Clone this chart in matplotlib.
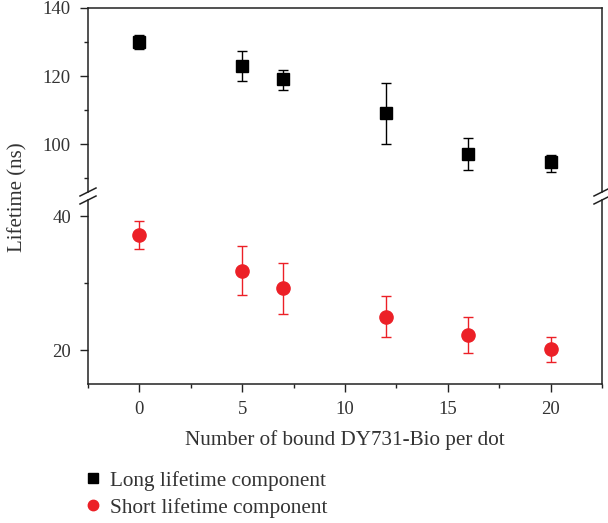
import matplotlib
matplotlib.use("Agg")
import matplotlib.pyplot as plt
from matplotlib.lines import Line2D

plt.rcParams["font.family"] = ["Liberation Serif", "DejaVu Serif"]

TEXT_COLOR = "#333333"
RED = "#ec2027"

dots = [0, 5, 7, 12, 16, 20]
long_life = [130.0, 122.9, 119.0, 109.0, 97.1, 94.8]
long_lo = [128.0, 118.4, 115.9, 100.1, 92.4, 91.8]
long_hi = [132.0, 127.4, 121.9, 117.9, 101.8, 96.9]
short_life = [37.2, 31.8, 29.3, 25.0, 22.2, 20.1]
short_lo = [35.1, 28.2, 25.4, 21.9, 19.5, 18.2]
short_hi = [39.3, 35.5, 33.0, 28.1, 24.9, 21.9]

W, H = 608, 523
fig = plt.figure(figsize=(W / 100, H / 100), dpi=100)

left, right = 88 / W, 602 / W
ax_top = fig.add_axes([left, 1 - 192 / H, right - left, (192 - 8) / H])
ax_bot = fig.add_axes([left, 1 - 384 / H, right - left, (384 - 200) / H], sharex=ax_top)

long_err = [[v - lo for v, lo in zip(long_life, long_lo)], [hi - v for v, hi in zip(long_life, long_hi)]]
short_err = [[v - lo for v, lo in zip(short_life, short_lo)], [hi - v for v, hi in zip(short_life, short_hi)]]

ax_top.errorbar(dots, long_life, yerr=long_err, fmt="s", color="black", markersize=8.5,
                capsize=3.3, elinewidth=1.0, capthick=1.0, zorder=3)
ax_bot.errorbar(dots, short_life, yerr=short_err, fmt="o", color=RED, markersize=9.5,
                capsize=3.3, elinewidth=1.0, capthick=1.0, zorder=3)

ax_top.set_ylim(85.9, 140)
ax_bot.set_ylim(14.93, 42.4)
ax_bot.set_xlim(-2.5, 22.5)

ax_top.set_yticks([100, 120, 140])
ax_top.set_yticks([90, 110, 130], minor=True)
ax_bot.set_yticks([20, 40])
ax_bot.set_yticks([30], minor=True)
ax_bot.set_xticks([0, 5, 10, 15, 20])
ax_bot.set_xticks([-2.5, 2.5, 7.5, 12.5, 17.5, 22.5], minor=True)

for ax in (ax_top, ax_bot):
    for side in ("left", "right", "top", "bottom"):
        ax.spines[side].set_linewidth(1.1)
        ax.spines[side].set_color("#222222")
    ax.tick_params(axis="both", which="major", direction="out", length=5.8, width=1.0,
                   colors="#222222", labelcolor=TEXT_COLOR, labelsize=13.5, pad=6.5)
    ax.tick_params(axis="both", which="minor", direction="out", length=3.0, width=1.0,
                   colors="#222222")
    ax.tick_params(axis="y", which="both", right=False)

ax_top.spines["bottom"].set_visible(False)
ax_top.tick_params(axis="x", which="both", bottom=False, labelbottom=False)
ax_bot.spines["top"].set_visible(False)

ax_bot.set_xlabel("Number of bound DY731-Bio per dot", fontsize=15.2, color=TEXT_COLOR, labelpad=9)
fig.text(18 / W, 1 - 197 / H, "Lifetime (ns)", rotation=90, ha="center", va="center",
         fontsize=15, color=TEXT_COLOR)

# break marks on both vertical spines
for xc in (88, 602):
    for yc in (192, 200):
        fig.add_artist(Line2D([(xc - 8) / W, (xc + 8) / W], [1 - (yc + 4) / H, 1 - (yc - 4) / H],
                              color="#222222", linewidth=1.1))

handles = [
    Line2D([], [], marker="s", linestyle="none", color="black", markersize=6.5),
    Line2D([], [], marker="o", linestyle="none", color=RED, markersize=7.5),
]
fig.legend(handles, ["Long lifetime component", "Short lifetime component"],
           loc="upper left", bbox_to_anchor=(82 / W, 1 - 471 / H), frameon=False,
           fontsize=15.3, handlelength=1.0, handletextpad=0.3, labelspacing=0.33,
           labelcolor=TEXT_COLOR, borderaxespad=0, borderpad=0)

fig.savefig("out.png", dpi=100)
